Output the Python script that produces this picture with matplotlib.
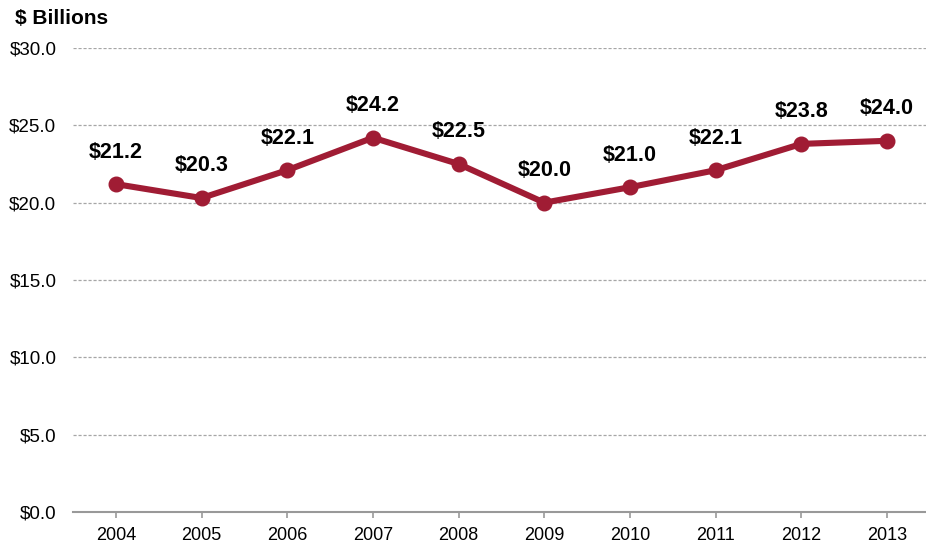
import matplotlib
matplotlib.use("Agg")
import matplotlib.pyplot as plt

years = ["2004", "2005", "2006", "2007", "2008", "2009", "2010", "2011", "2012", "2013"]
values = [21.2, 20.3, 22.1, 24.2, 22.5, 20.0, 21.0, 22.1, 23.8, 24.0]
yticks = [0, 5, 10, 15, 20, 25, 30]

plt.rcParams['font.family'] = ['Liberation Sans', 'DejaVu Sans']

W, H = 926, 546
fig = plt.figure(figsize=(W/100, H/100), dpi=100)
left, right, top, bottom = 73, 930, 48, 512
ax = fig.add_axes([left/W, (H-bottom)/H, (right-left)/W, (bottom-top)/H])

x = list(range(len(years)))
color = "#A01C34"
ax.plot(x, values, color=color, lw=4.4, marker='o', ms=10.5, solid_capstyle='round',
        solid_joinstyle='round', zorder=3, clip_on=False)
for xi, v in zip(x, values):
    ax.annotate(f"${v:.1f}", (xi, v), xytext=(0, 15.5), textcoords='offset points',
                ha='center', va='bottom', fontsize=15.5, fontweight='bold', color='black')

ax.set_xlim(-0.5, len(years) - 0.5)
ax.set_ylim(0, 30)
ax.set_yticks(yticks)
ax.set_yticklabels([f"${t:.1f}" for t in yticks], fontsize=13.5)
ax.set_xticks(x)
ax.set_xticklabels(years, fontsize=13)
for t in yticks[1:]:
    ax.axhline(t, color='#a6a6a6', lw=0.9, ls=(0, (2.5, 1.5)), zorder=1)
for s in ['left', 'right', 'top']:
    ax.spines[s].set_visible(False)
ax.spines['bottom'].set_color('#999999')
ax.spines['bottom'].set_linewidth(1.5)
ax.tick_params(axis='y', length=0, pad=12)
ax.tick_params(axis='x', length=4, width=1.2, color='#999999', pad=7)

fig.text(15/W, 1 - 19/H, "$ Billions", fontsize=15, fontweight='bold', va='center', ha='left')

fig.savefig("out.png", dpi=100)
